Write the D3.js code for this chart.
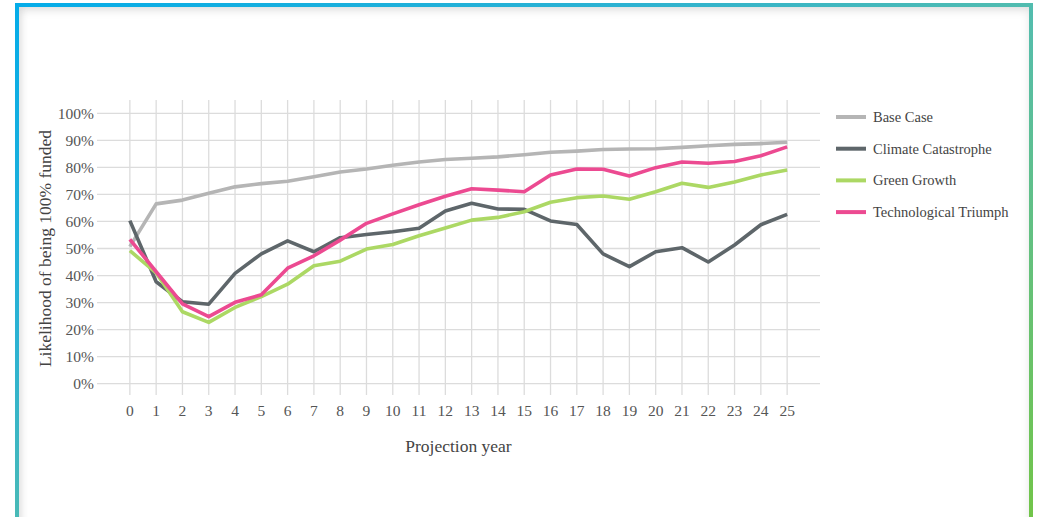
<!DOCTYPE html>
<html>
<head>
<meta charset="utf-8">
<script src="https://cdn.jsdelivr.net/npm/d3@7"></script>
<style>
  html, body { margin: 0; padding: 0; background: #fff; }
  body { width: 1040px; height: 517px; overflow: hidden; position: relative; }
  #card {
    position: absolute; left: 15px; top: 3px; width: 1010px; height: 560px;
    border: 4px solid transparent;
    border-image: linear-gradient(to bottom right, #04ace9 0%, #2cb2d2 30%, #55bdab 52%, #66c177 75%, #74c53f 100%) 1;
    box-shadow: inset 0 4px 8px rgba(0,0,0,0.10), inset 4px 0 6px rgba(0,0,0,0.06);
  }
  svg { position: absolute; left: 0; top: 0; }
  text { font-family: "Liberation Serif", "Times New Roman", serif; }
</style>
</head>
<body>
<div id="card"></div>
<script>
  // values, in percent
  var years = d3.range(0, 26);
  var yTicks = [0, 10, 20, 30, 40, 50, 60, 70, 80, 90, 100];

  var baseCase = [50.7, 66.5, 67.9, 70.4, 72.8, 74.0, 74.9, 76.5, 78.3, 79.4, 80.8, 82.0,
                  82.9, 83.4, 83.9, 84.7, 85.6, 86.0, 86.6, 86.8, 86.9, 87.4, 88.0, 88.5, 88.8, 89.3];
  var climateCatastrophe = [60.3, 37.7, 30.3, 29.4, 40.8, 48.0, 52.8, 48.8, 54.0, 55.2, 56.2, 57.5,
                  63.9, 66.7, 64.6, 64.5, 60.2, 58.9, 48.0, 43.3, 48.8, 50.3, 45.0, 51.3, 58.8, 62.6];
  var greenGrowth = [49.2, 41.0, 26.6, 22.7, 28.2, 32.2, 36.8, 43.6, 45.3, 49.8, 51.5, 54.7,
                  57.6, 60.5, 61.5, 63.6, 67.1, 68.8, 69.4, 68.2, 71.0, 74.1, 72.6, 74.6, 77.2, 79.0];
  var techTriumph = [53.4, 41.4, 29.5, 24.8, 30.1, 32.9, 42.7, 47.3, 53.1, 59.3, 62.8, 66.2,
                  69.3, 72.1, 71.6, 71.0, 77.2, 79.4, 79.3, 76.8, 79.9, 82.0, 81.5, 82.2, 84.3, 87.6];

  var seriesNames = ["Base Case", "Climate Catastrophe", "Green Growth", "Technological Triumph"];
  var seriesColors = ["#b5b5b5", "#5e666a", "#acd864", "#ec4a91"];
  var seriesValues = [baseCase, climateCatastrophe, greenGrowth, techTriumph];

  var W = 1040, H = 517;
  var svg = d3.select("body").append("svg").attr("width", W).attr("height", H);

  // plot box: gridlines run a bit past the first/last year like the original
  var x = d3.scaleLinear().domain([-1.25, 26.25]).range([97, 820]);
  var y = d3.scaleLinear().domain([0, 100]).range([383.7, 113.3]);

  var grid = svg.append("g").attr("stroke", "#dcdcdc").attr("stroke-width", 1.3);

  grid.selectAll("line.h")
    .data(yTicks)
    .enter().append("line")
      .attr("x1", 97).attr("x2", 820)
      .attr("y1", function(d) { return y(d); })
      .attr("y2", function(d) { return y(d); });

  grid.selectAll("line.v")
    .data(years)
    .enter().append("line")
      .attr("y1", 100).attr("y2", 395)
      .attr("x1", function(d) { return x(d); })
      .attr("x2", function(d) { return x(d); });

  // tick labels
  svg.append("g").selectAll("text")
    .data(yTicks)
    .enter().append("text")
      .attr("x", 94)
      .attr("y", function(d) { return y(d); })
      .attr("dy", "0.35em")
      .attr("text-anchor", "end")
      .style("font-size", "15.5px")
      .style("fill", "#555")
      .text(function(d) { return d + "%"; });

  svg.append("g").selectAll("text")
    .data(years)
    .enter().append("text")
      .attr("x", function(d) { return x(d); })
      .attr("y", 411)
      .attr("dy", "0.35em")
      .attr("text-anchor", "middle")
      .style("font-size", "15.5px")
      .style("fill", "#555")
      .text(function(d) { return d; });

  // axis titles
  svg.append("text")
    .attr("x", (x(0) + x(25)) / 2)
    .attr("y", 446)
    .attr("dy", "0.35em")
    .attr("text-anchor", "middle")
    .style("font-size", "17.5px")
    .style("fill", "#444")
    .text("Projection year");

  svg.append("text")
    .attr("transform", "translate(45," + ((y(0) + y(100)) / 2) + ") rotate(-90)")
    .attr("dy", "0.35em")
    .attr("text-anchor", "middle")
    .style("font-size", "17.5px")
    .style("fill", "#444")
    .text("Likelihood of being 100% funded");

  // the series
  var line = d3.line()
    .x(function(d, i) { return x(years[i]); })
    .y(function(d) { return y(d); });

  svg.append("g").selectAll("path")
    .data(seriesValues)
    .enter().append("path")
      .attr("d", line)
      .attr("fill", "none")
      .attr("stroke", function(d, i) { return seriesColors[i]; })
      .attr("stroke-width", 3.6)
      .attr("stroke-linejoin", "round");

  // legend
  var legend = svg.append("g").selectAll("g")
    .data(seriesNames)
    .enter().append("g")
      .attr("transform", function(d, i) { return "translate(836," + (117 + i * 31.7) + ")"; });

  legend.append("line")
    .attr("x1", 0).attr("x2", 30)
    .attr("stroke", function(d, i) { return seriesColors[i]; })
    .attr("stroke-width", 4);

  legend.append("text")
    .attr("x", 37)
    .attr("dy", "0.35em")
    .style("font-size", "14.5px")
    .style("fill", "#444")
    .text(function(d) { return d; });
</script>
</body>
</html>
